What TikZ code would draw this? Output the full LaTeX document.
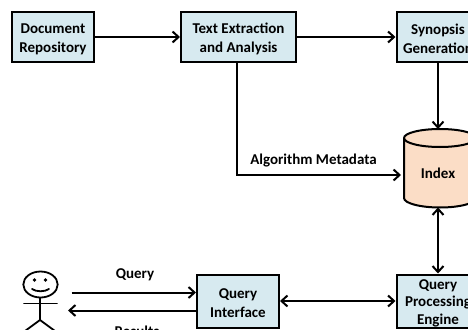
\documentclass[tikz,border=0pt]{standalone}
\usepackage{fontspec}
\setmainfont{Carlito}
\usetikzlibrary{arrows.meta,shapes.geometric}
\definecolor{boxblue}{HTML}{D7EAF0}
\definecolor{cylorange}{HTML}{FBDDC6}
\newcommand{\toppad}{\rule{0pt}{14pt}}
\tikzset{
  x=1pt,y=-1pt,
  procbox/.style={draw=black,line width=2pt,fill=boxblue,rectangle,align=center,font=\bfseries\fontsize{15}{19}\selectfont,inner sep=0pt,text=black},
  conn/.style={draw=black,line width=2pt,-{Straight Barb[length=6pt,width=11pt,line width=2pt]}},
  dconn/.style={draw=black,line width=2pt,{Straight Barb[length=6pt,width=11pt,line width=2pt]}-{Straight Barb[length=6pt,width=11pt,line width=2pt]}},
  lbl/.style={font=\bfseries\fontsize{15}{17}\selectfont,inner sep=0pt,text=black},
  fig/.style={draw=black,line width=1.8pt,line cap=round},
}
\begin{document}
\begin{tikzpicture}
\useasboundingbox (0,0) rectangle (468,329);
\clip (0,0) rectangle (468,329);
\node[procbox,minimum width=82pt,minimum height=50pt] (doc) at (53,37) {\toppad Document\\Repository};
\node[procbox,minimum width=115pt,minimum height=50pt] (text) at (238.5,37) {\toppad Text Extraction\\and Analysis};
\node[procbox,minimum width=83pt,minimum height=50pt] (syn) at (438,37) {\toppad Synopsis\\Generation};
\node[procbox,minimum width=82pt,minimum height=53pt] (qi) at (238,301) {\toppad Query\\Interface};
\node[procbox,minimum width=83pt,minimum height=53pt,font=\bfseries\fontsize{15}{17.5}\selectfont] (qp) at (438,301) {\toppad Query\\Processing\\Engine};
% cylinder
\filldraw[draw=black,line width=2pt,fill=cylorange]
  (404,138) -- (404,198) arc[start angle=180,end angle=0,x radius=36,y radius=9.5] -- (476,138)
  arc[start angle=0,end angle=-180,x radius=36,y radius=9];
\draw[line width=2pt] (404,138) arc[start angle=180,end angle=0,x radius=36,y radius=9];
\node[lbl] (idx) at (438,173) {Index};
\coordinate (idxtop) at (438,129);
\coordinate (idxbot) at (438,207.5);
\coordinate (idxleft) at (401,175);
% connectors
\draw[conn] (doc.east) -- (text.west);
\draw[conn] (text.east) -- (syn.west);
\draw[conn] (syn.south) -- (idxtop);
\coordinate (textdown) at (237,175);
\coordinate (textexit) at (237,62);
\draw[conn] (textexit) -- (textdown) -- (idxleft);
\draw[dconn] (idxbot) -- (qp.north);
\draw[dconn] (qi.east) -- (qp.west);
\node[lbl] (alg) at (313.5,160.5) {Algorithm Metadata};
% user
\draw[fig] (40.5,284.5) ellipse[x radius=17.2,y radius=13];
\fill (34.5,280) circle[radius=1.9];
\fill (45.5,280) circle[radius=1.9];
\draw[fig] (32,289) .. controls (36,292) and (45,292) .. (49,289);
\draw[fig] (40,298) -- (40,320);
\draw[fig] (24,303.5) -- (57,303.5);
\draw[fig] (40,320) -- (25,331);
\draw[fig] (40,320) -- (55,331);
\coordinate (userin) at (71.5,292.5);
\coordinate (userout) at (68,310.5);
\draw[conn] (userin) -- (qi.west |- userin);
\draw[conn] (qi.west |- userout) -- (userout);
\node[lbl] (qlab) at (135,275) {Query};
\node[lbl] (rlab) at (137,331) {Results};
\end{tikzpicture}
\end{document}
